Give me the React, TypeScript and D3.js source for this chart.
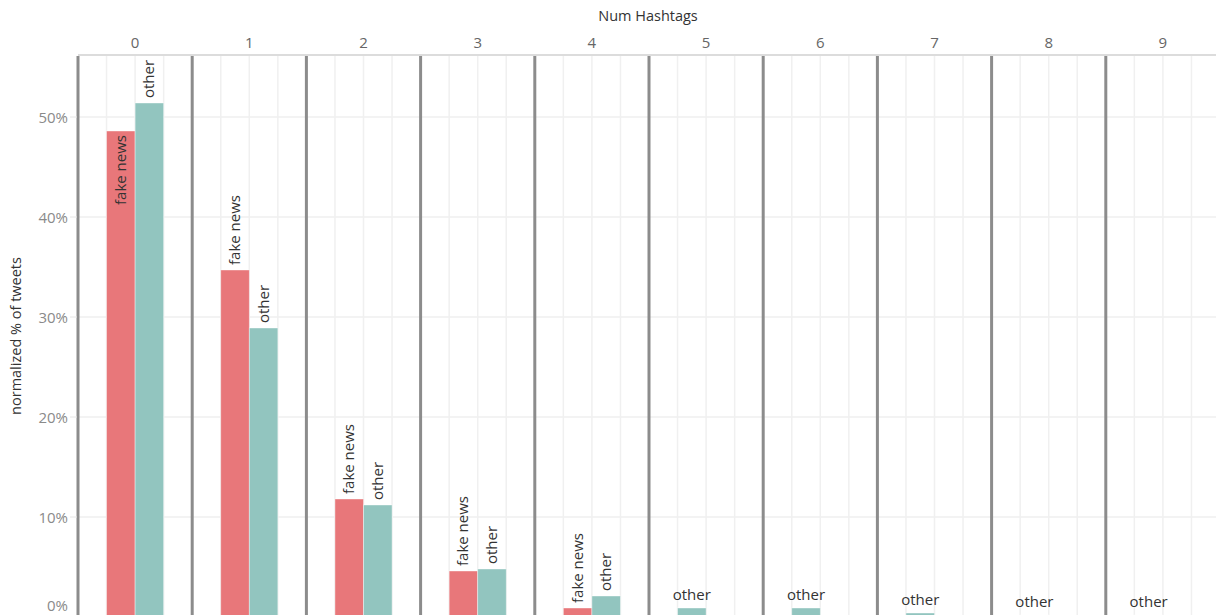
import React from 'react';
import * as d3 from 'd3';

const bins = ['0', '1', '2', '3', '4', '5', '6', '7', '8', '9'];
const fakeNews: (number | null)[] = [48.6, 34.7, 11.8, 4.6, 0.9, null, null, null, null, null];
const other: (number | null)[] = [51.4, 28.9, 11.2, 4.8, 2.1, 0.9, 0.9, 0.4, 0.2, 0.2];
const yTicks = [0, 10, 20, 30, 40, 50];

const W = 1216;
const H = 615;
const FONT = "'Open Sans', sans-serif";

const App = () => {
  const x = d3.scaleBand<string>().domain(bins).range([78, 78 + 114.2 * bins.length]);
  // 4 slots in each pane, bars use the middle two
  const slot = d3.scaleBand<number>().domain([0, 1, 2, 3]).range([0, x.bandwidth()]);
  const y = d3.scaleLinear().domain([0, 56.2]).range([617, 55]);

  const series = [
    { name: 'fake news', values: fakeNews, color: '#e8777a', len: 72 },
    { name: 'other', values: other, color: '#92c5bf', len: 40 },
  ];

  const bars: { key: string; name: string; x: number; top: number; w: number; color: string; rotated: boolean; inside: boolean }[] = [];
  bins.forEach((b, i) => {
    const present = series.filter(s => s.values[i] != null);
    present.forEach((s, j) => {
      const v = s.values[i] as number;
      const bx = (x(b) as number) + (slot(1 + j) as number);
      const top = y(v);
      const rotated = present.length > 1;
      bars.push({
        key: b + s.name,
        name: s.name,
        x: bx,
        top,
        w: slot.bandwidth(),
        color: s.color,
        rotated,
        // label goes inside the bar when it would hit the top of the pane
        inside: rotated && top - 4 - s.len < 58,
      });
    });
  });

  return (
    <svg width={W} height={H} style={{ position: 'absolute', left: 0, top: 0, background: '#fff' }} fontFamily={FONT}>
      {/* horizontal grid */}
      {yTicks.filter(t => t > 0).map(t => (
        <line key={'hg' + t} x1={78} x2={W} y1={y(t)} y2={y(t)} stroke="#efefef" strokeWidth={1.5} />
      ))}
      {/* vertical grid inside panes */}
      {bins.map(b => [1, 2, 3].map(k => (
        <line key={'vg' + b + k} x1={(x(b) as number) + (slot(k) as number)} x2={(x(b) as number) + (slot(k) as number)}
          y1={55} y2={H} stroke="#f0f0f0" strokeWidth={1.5} />
      )))}
      {/* top border */}
      <line x1={78} x2={W} y1={55} y2={55} stroke="#dcdcdc" strokeWidth={2} />
      {/* bars */}
      {bars.map(d => (
        <rect key={d.key} x={d.x} y={d.top} width={d.w} height={H + 10 - d.top} fill={d.color} stroke="#fff" strokeOpacity={0.5} strokeWidth={0.8} />
      ))}
      {/* pane separators */}
      {bins.map(b => (
        <line key={'sep' + b} x1={x(b) as number} x2={x(b) as number} y1={56} y2={H} stroke="#8c8c8c" strokeWidth={3} />
      ))}
      {/* bar labels */}
      {bars.map(d => {
        const cx = d.x + d.w / 2;
        if (!d.rotated) {
          return (
            <text key={'l' + d.key} x={cx} y={d.top - 8} textAnchor="middle" fontSize={15} fill="#333">{d.name}</text>
          );
        }
        const ly = d.inside ? d.top + 4 : d.top - 5;
        return (
          <text key={'l' + d.key} transform={`translate(${cx + 5},${ly}) rotate(-90)`} textAnchor={d.inside ? 'end' : 'start'}
            fontSize={15} fill="#333">{d.name}</text>
        );
      })}
      {/* y axis */}
      {yTicks.map(t => (
        <g key={'yt' + t}>
          <line x1={70} x2={77} y1={y(t)} y2={y(t)} stroke="#e6e6e6" strokeWidth={1} />
          <text x={68} y={Math.min(y(t), 605) + 6} textAnchor="end" fontSize={15} fill="#8a8a8a">{t}%</text>
        </g>
      ))}
      <text transform="translate(21,336) rotate(-90)" textAnchor="middle" fontSize={14.5} fill="#333">normalized % of tweets</text>
      {/* top x axis */}
      {bins.map(b => (
        <text key={'xt' + b} x={(x(b) as number) + x.bandwidth() / 2} y={48} textAnchor="middle" fontSize={15} fill="#666">{b}</text>
      ))}
      <text x={648} y={21} textAnchor="middle" fontSize={14.5} fill="#333">Num Hashtags</text>
    </svg>
  );
};

export default App;
